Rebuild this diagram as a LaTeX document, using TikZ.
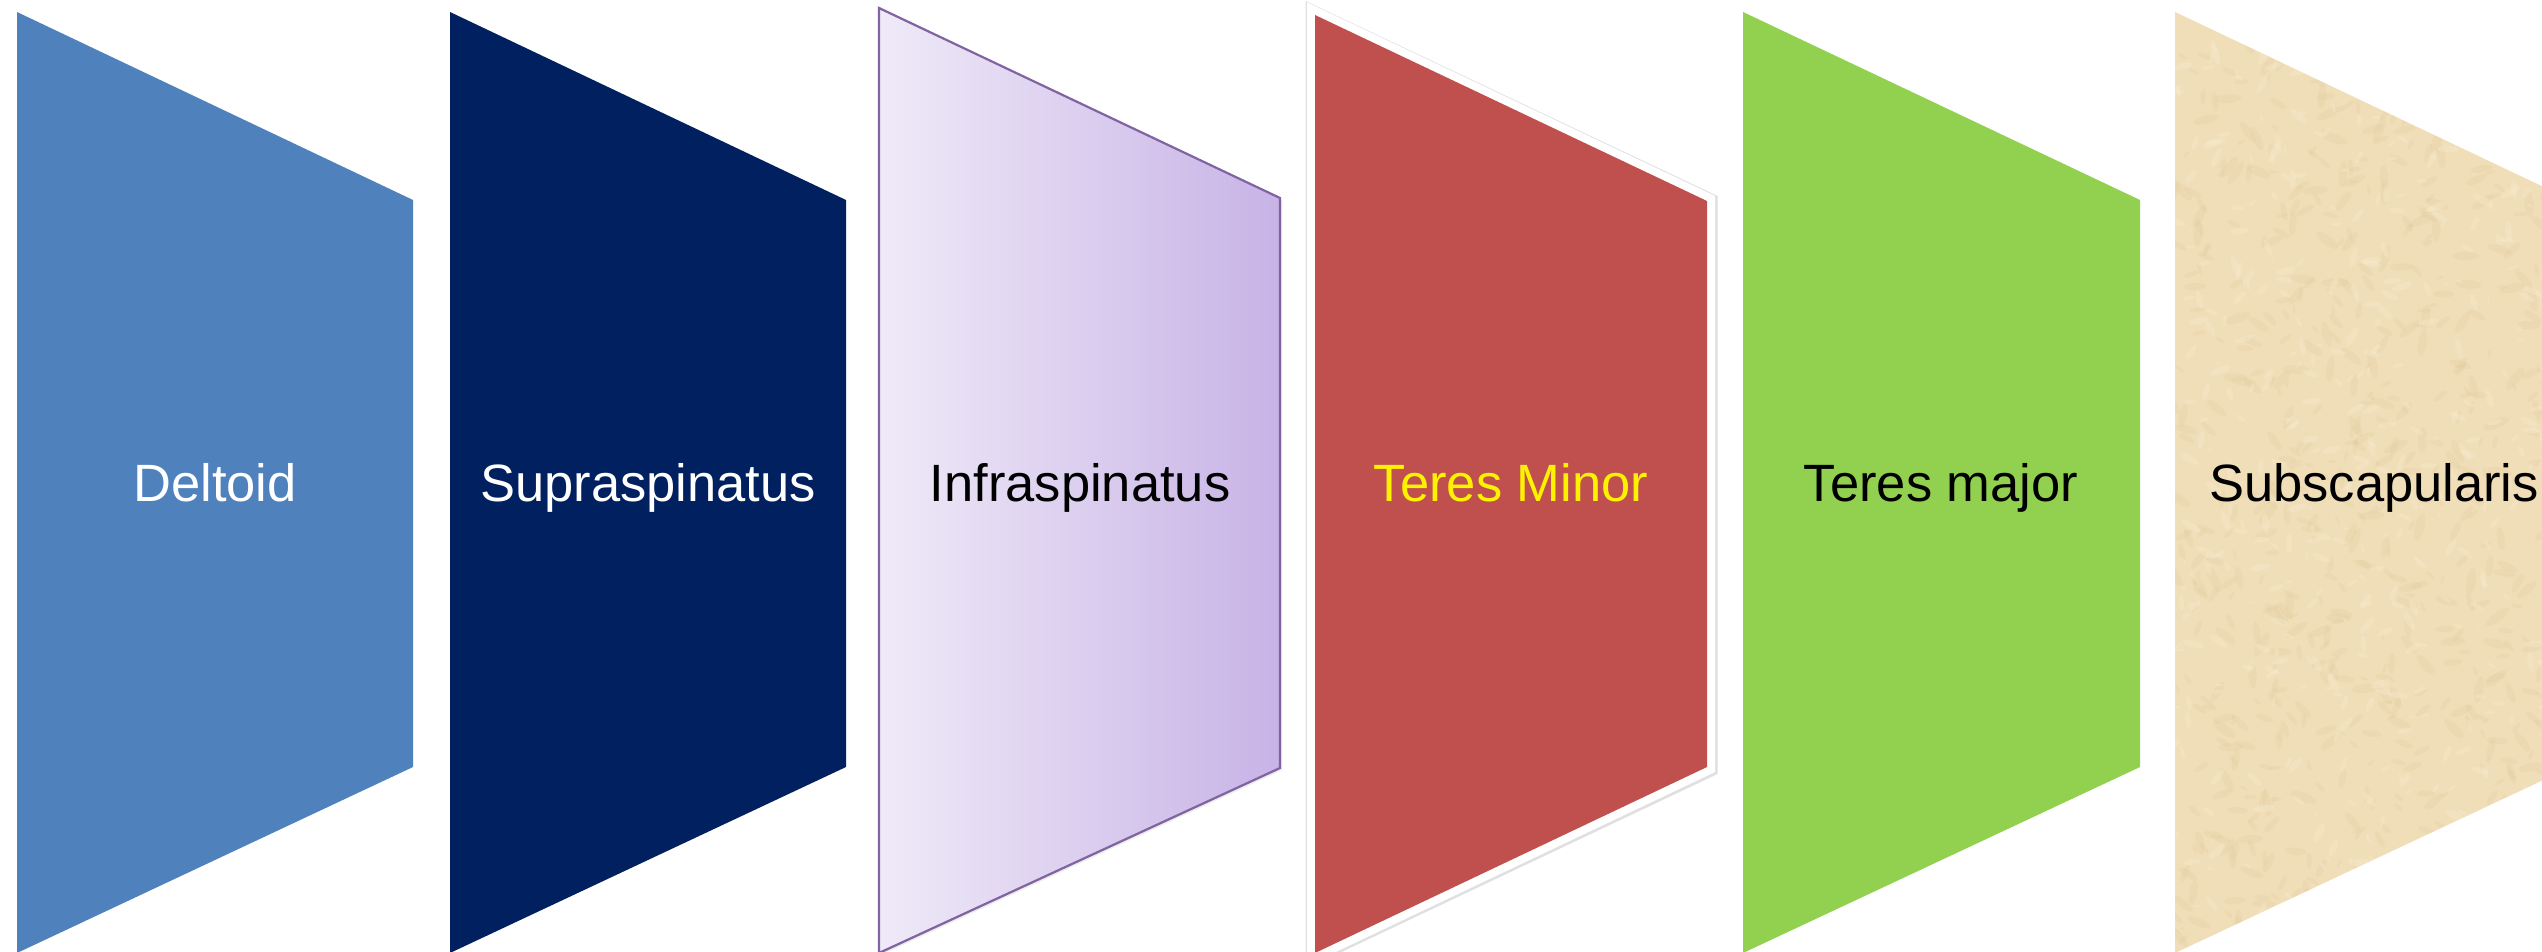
\documentclass[tikz,border=0pt]{standalone}
\usepackage{fontspec}
\setmainfont{Liberation Sans}
\definecolor{delt}{HTML}{4F81BD}
\definecolor{supra}{HTML}{00205F}
\definecolor{infraL}{HTML}{EFEAF8}
\definecolor{infraR}{HTML}{C8B3E6}
\definecolor{infraLine}{HTML}{8064A2}
\definecolor{teresR}{HTML}{C0504D}
\definecolor{teresG}{HTML}{92D050}
\definecolor{sand}{HTML}{F0DEB8}
\definecolor{sandDark}{HTML}{DEC594}
\definecolor{sandLight}{HTML}{F8EBCF}
\tikzset{
  lbl/.style={font=\fontsize{52.5}{60}\selectfont, anchor=base, inner sep=0pt},
}
\begin{document}
\begin{tikzpicture}[x=1pt,y=-1pt]
\useasboundingbox (0,0) rectangle (2542,952);
\fill[white] (0,0) rectangle (2542,952);
% Deltoid
\fill[delt] (17,12) -- (413,200) -- (413,767) -- (17,953) -- cycle;
% Supraspinatus
\fill[supra] (450,12) -- (846,200) -- (846,767) -- (450,953) -- cycle;
% Infraspinatus
\fill[black!15,opacity=0.5] (881,10) -- (1282,200) -- (1282,770) -- (881,955) -- cycle;
\shade[left color=infraL, right color=infraR] (879,8) -- (1280,198) -- (1280,768) -- (879,953) -- cycle;
\draw[infraLine, line width=2.2pt, line join=miter] (879,8) -- (1280,198) -- (1280,768) -- (879,953) -- cycle;
% Teres Minor
\draw[black!12, line width=19pt, line join=miter] (1315,16) -- (1708,202) -- (1708,768) -- (1315,954) -- cycle;
\draw[white, line width=16pt, line join=miter] (1315,15) -- (1707,201) -- (1707,767) -- (1315,953) -- cycle;
\fill[teresR] (1315,15) -- (1707,201) -- (1707,767) -- (1315,953) -- cycle;
% Teres major
\fill[teresG] (1743,12) -- (2140,200) -- (2140,767) -- (1743,953) -- cycle;
% Subscapularis (textured)
\begin{scope}
  \clip (2175,12) -- (2571,200) -- (2571,767) -- (2175,953) -- cycle;
  \fill[sand] (2170,0) rectangle (2580,960);
  \pgfmathsetseed{7}
  \foreach \i in {1,...,700}{
    \pgfmathsetmacro{\px}{2175+400*rnd}
    \pgfmathsetmacro{\py}{10+945*rnd}
    \pgfmathsetmacro{\pr}{4+10*rnd}
    \pgfmathsetmacro{\pa}{360*rnd}
    \fill[sandDark, opacity=0.18, rotate around={\pa:(\px,\py)}] (\px,\py) ellipse ({\pr} and {\pr/3});
  }
  \foreach \i in {1,...,500}{
    \pgfmathsetmacro{\px}{2175+400*rnd}
    \pgfmathsetmacro{\py}{10+945*rnd}
    \pgfmathsetmacro{\pr}{3+8*rnd}
    \pgfmathsetmacro{\pa}{360*rnd}
    \fill[sandLight, opacity=0.35, rotate around={\pa:(\px,\py)}] (\px,\py) ellipse ({\pr} and {\pr/3});
  }
\end{scope}
% Labels
\node[lbl, text=white] (t1) at (215,501) {Deltoid};
\node[lbl, text=white] (t2) at (648,501) {Supraspinatus};
\node[lbl, text=black] (t3) at (1080,501) {Infraspinatus};
\node[lbl, text=yellow] (t4) at (1511,501) {Teres Minor};
\node[lbl, text=black] (t5) at (1941,501) {Teres major};
\node[lbl, text=black] (t6) at (2374,501) {Subscapularis};
\end{tikzpicture}
\end{document}
